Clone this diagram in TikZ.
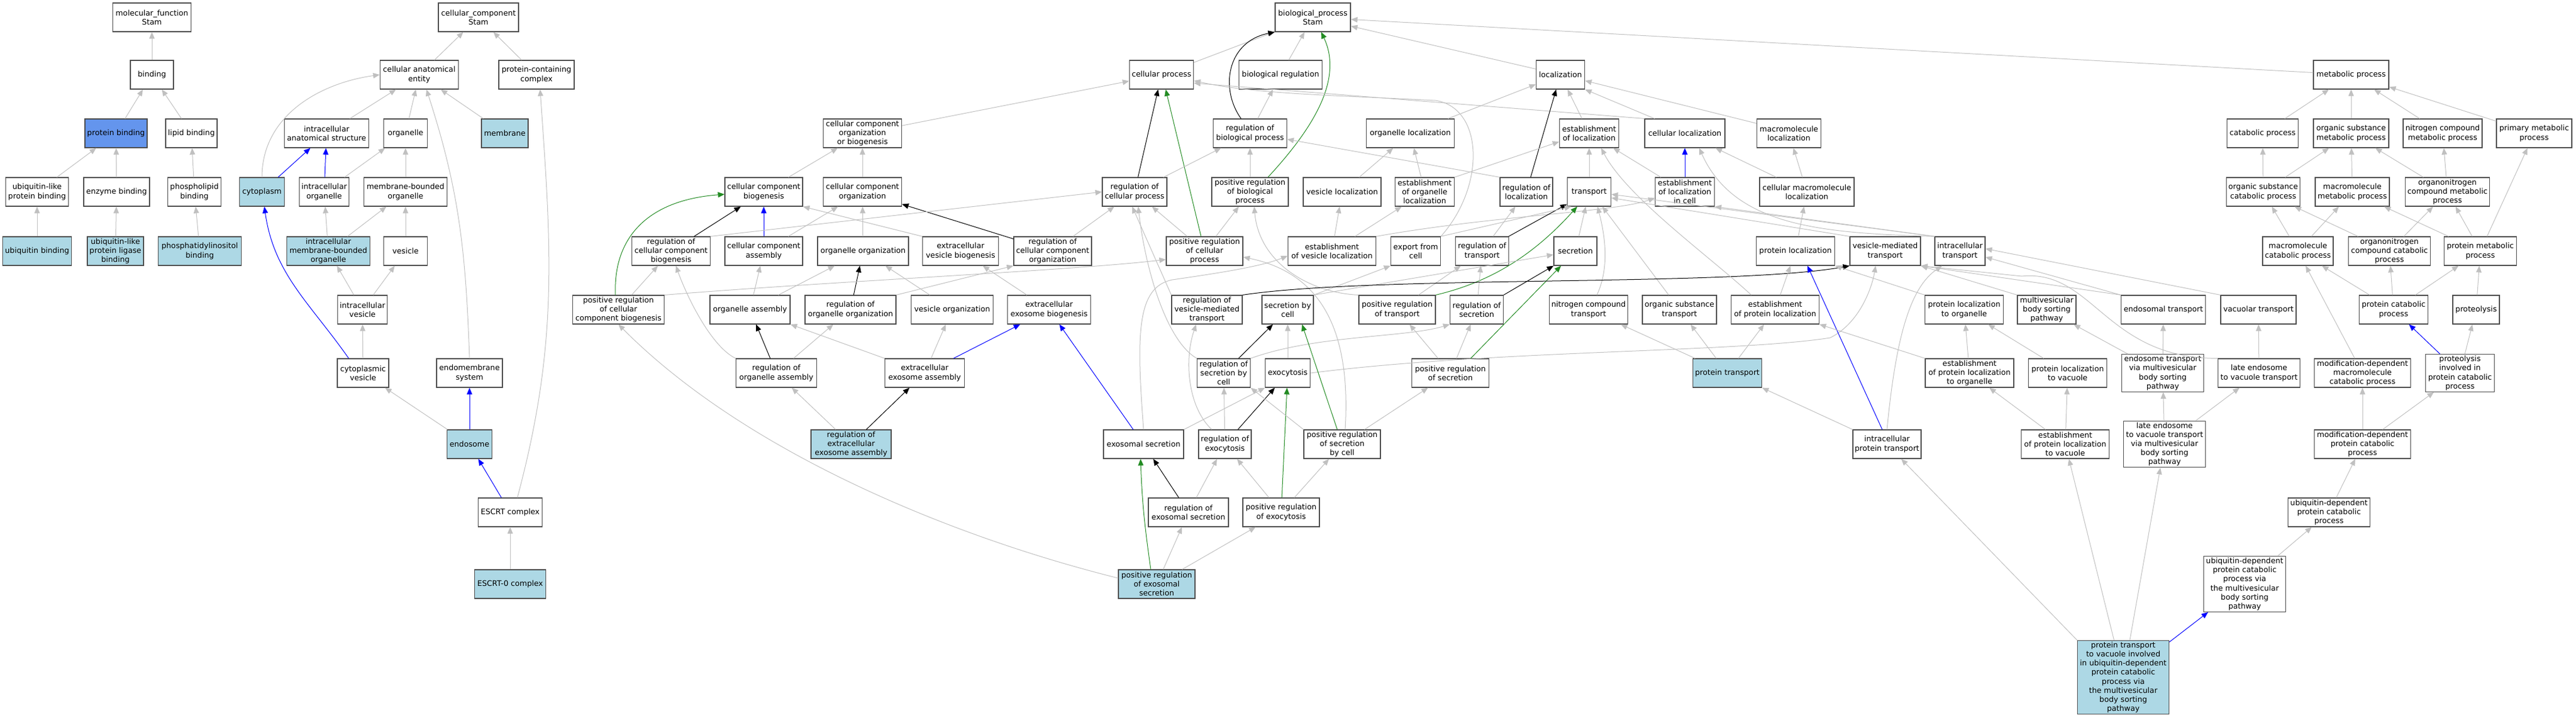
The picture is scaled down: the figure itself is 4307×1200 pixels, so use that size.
\PassOptionsToPackage{svgnames}{xcolor}
\documentclass[tikz,border=0pt]{standalone}
\usepackage{fontspec}
\setmainfont{DejaVu Sans}
\usetikzlibrary{arrows.meta}

\begin{document}
\begin{tikzpicture}[x=1pt, y=-1pt, font=\fontsize{12.7}{15.1}\selectfont, -{Triangle[length=11pt,width=9pt]}, line width=1pt]
      \useasboundingbox (0,0) rectangle (4307,1200);
      \tikzstyle{term} = [draw=black!70, line width=1.2pt, fill=white, align=center, inner xsep=2pt, inner ysep=2.5pt, minimum height=48pt]
      \tikzstyle{hit} = [term, fill=LightBlue]
      \tikzstyle{isa} = [draw=Silver]
      \tikzstyle{partof} = [draw=Blue]
      \tikzstyle{reg} = [draw=black]
      \tikzstyle{posreg} = [draw=ForestGreen]
      % molecular function
      \node (molfunc) at (254,29) [term, minimum width=131pt] {molecular\_function\\Stam};
      \node (binding) at (254,125) [term, minimum width=72pt] {binding};
      \node (proteinbinding) at (194,223) [term, fill=CornflowerBlue, minimum width=104pt] {protein binding};
      \node (lipidbinding) at (320,223) [term, minimum width=86pt] {lipid binding};
      \node (ubiquitinlike) at (62,321) [term, minimum width=105pt] {ubiquitin-like\\protein binding};
      \node (enzymebinding) at (195,321) [term, minimum width=110pt] {enzyme binding};
      \node (phospholipid) at (325,321) [term, minimum width=89pt] {phospholipid\\binding};
      \node (ubiquitinbinding) at (62,420) [hit, minimum width=115pt] {ubiquitin binding};
      \node (ligasebinding) at (193,420) [hit, minimum width=94pt] {ubiquitin-like\\protein ligase\\binding};
      \node (phosphatidylinositol) at (334,420) [hit, minimum width=139pt] {phosphatidylinositol\\binding};
      % cellular component
      \node (cellcomp) at (800,29) [term, minimum width=134pt] {cellular\_component\\Stam};
      \node (anatomical) at (701,125) [term, minimum width=131pt] {cellular anatomical\\entity};
      \node (proteincomplex) at (897,125) [term, minimum width=126pt] {protein-containing\\complex};
      \node (intracellularstructure) at (546,223) [term, minimum width=141pt] {intracellular\\anatomical structure};
      \node (organelle) at (678,223) [term, minimum width=73pt] {organelle};
      \node (membrane) at (844,223) [hit, minimum width=78pt] {membrane};
      \node (cytoplasm) at (438,321) [hit, minimum width=75pt] {cytoplasm};
      \node (intracellularorganelle) at (542,321) [term, minimum width=83pt] {intracellular\\organelle};
      \node (membranebounded) at (678,321) [term, minimum width=139pt] {membrane-bounded\\organelle};
      \node (intramembranebounded) at (549,420) [hit, minimum width=139pt] {intracellular\\membrane-bounded\\organelle};
      \node (vesicle) at (678,420) [term, minimum width=73pt] {vesicle};
      \node (intracellularvesicle) at (606,518) [term, minimum width=83pt] {intracellular\\vesicle};
      \node (cytoplasmicvesicle) at (607,624) [term, minimum width=86pt] {cytoplasmic\\vesicle};
      \node (endomembrane) at (785,624) [term, minimum width=110pt] {endomembrane\\system};
      \node (endosome) at (785,743) [hit, minimum width=75pt] {endosome};
      \node (escrt) at (853,857) [term, minimum width=107pt] {ESCRT complex};
      \node (escrtzero) at (853,977) [hit, minimum width=119pt] {ESCRT-0 complex};
      % biological process
      \node (bioprocess) at (2195,29) [term, minimum width=126pt] {biological\_process\\Stam};
      \node (cellularprocess) at (1942,125) [term, minimum width=107pt] {cellular process};
      \node (bioregulation) at (2141,125) [term, minimum width=139pt] {biological regulation};
      \node (localization) at (2609,125) [term, minimum width=81pt] {localization};
      \node (metabolic) at (3931,125) [term, minimum width=126pt] {metabolic process};
      \node (ccorgbio) at (1442,223) [term, minimum width=131pt] {cellular component\\organization\\or biogenesis};
      \node (regbioprocess) at (2090,223) [term, minimum width=123pt] {regulation of\\biological process};
      \node (organelleloc) at (2358,223) [term, minimum width=147pt] {organelle localization};
      \node (establoc) at (2657,223) [term, minimum width=99pt] {establishment\\of localization};
      \node (cellularloc) at (2817,223) [term, minimum width=134pt] {cellular localization};
      \node (macroloc) at (2991,223) [term, minimum width=107pt] {macromolecule\\localization};
      \node (catabolic) at (3783,223) [term, minimum width=119pt] {catabolic process};
      \node (orgsubmetab) at (3931,223) [term, minimum width=126pt] {organic substance\\metabolic process};
      \node (nitrometab) at (4084,223) [term, minimum width=132pt] {nitrogen compound\\metabolic process};
      \node (primarymetab) at (4237,223) [term, minimum width=126pt] {primary metabolic\\process};
      \node (ccbiogenesis) at (1277,321) [term, minimum width=130pt] {cellular component\\biogenesis};
      \node (ccorganization) at (1442,321) [term, minimum width=131pt] {cellular component\\organization};
      \node (regcellprocess) at (1897,321) [term, minimum width=108pt] {regulation of\\cellular process};
      \node (posregbioprocess) at (2090,321) [term, minimum width=128pt] {positive regulation\\of biological\\process};
      \node (vesicleloc) at (2244,321) [term, minimum width=130pt] {vesicle localization};
      \node (estorganelleloc) at (2382,321) [term, minimum width=99pt] {establishment\\of organelle\\localization};
      \node (regloc) at (2552,321) [term, minimum width=88pt] {regulation of\\localization};
      \node (transport) at (2657,321) [term, minimum width=73pt] {transport};
      \node (estlocincell) at (2817,321) [term, minimum width=99pt] {establishment\\of localization\\in cell};
      \node (cellmacroloc) at (3021,321) [term, minimum width=158pt] {cellular macromolecule\\localization};
      \node (orgsubcatab) at (3784,321) [term, minimum width=123pt] {organic substance\\catabolic process};
      \node (macrometab) at (3933,321) [term, minimum width=124pt] {macromolecule\\metabolic process};
      \node (organonitrometab) at (4092,321) [term, minimum width=141pt] {organonitrogen\\compound metabolic\\process};
      \node (regccbiogenesis) at (1122,420) [term, minimum width=131pt] {regulation of\\cellular component\\biogenesis};
      \node (ccassembly) at (1277,420) [term, minimum width=130pt] {cellular component\\assembly};
      \node (organelleorg) at (1443,420) [term, minimum width=152pt] {organelle organization};
      \node (evbiogenesis) at (1606,420) [term, minimum width=127pt] {extracellular\\vesicle biogenesis};
      \node (regccorg) at (1760,420) [term, minimum width=130pt] {regulation of\\cellular component\\organization};
      \node (posregcellprocess) at (2014,420) [term, minimum width=128pt] {positive regulation\\of cellular\\process};
      \node (estvesicleloc) at (2227,420) [term, minimum width=147pt] {establishment\\of vesicle localization};
      \node (export) at (2367,420) [term, minimum width=83pt] {export from\\cell};
      \node (regtransport) at (2478,420) [term, minimum width=89pt] {regulation of\\transport};
      \node (secretion) at (2634,420) [term, minimum width=72pt] {secretion};
      \node (proteinloc) at (3002,420) [term, minimum width=131pt] {protein localization};
      \node (vesiclemediated) at (3152,420) [term, minimum width=118pt] {vesicle-mediated\\transport};
      \node (intracellulartransport) at (3277,420) [term, minimum width=84pt] {intracellular\\transport};
      \node (macrocatab) at (3842,420) [term, minimum width=118pt] {macromolecule\\catabolic process};
      \node (organonitrocatab) at (3995,420) [term, minimum width=137pt] {organonitrogen\\compound catabolic\\process};
      \node (proteinmetab) at (4147,420) [term, minimum width=121pt] {protein metabolic\\process};
      \node (posregccbiogenesis) at (1034,518) [term, minimum width=153pt] {positive regulation\\of cellular\\component biogenesis};
      \node (organelleassembly) at (1254,518) [term, minimum width=134pt] {organelle assembly};
      \node (regorganelleorg) at (1422,518) [term, minimum width=152pt] {regulation of\\organelle organization};
      \node (vesicleorg) at (1592,518) [term, minimum width=137pt] {vesicle organization};
      \node (exobiogenesis) at (1754,518) [term, minimum width=139pt] {extracellular\\exosome biogenesis};
      \node (regvesiclemediated) at (2018,518) [term, minimum width=118pt] {regulation of\\vesicle-mediated\\transport};
      \node (secretionbycell) at (2153,518) [term, minimum width=86pt] {secretion by\\cell};
      \node (posregtransport) at (2336,518) [term, minimum width=128pt] {positive regulation\\of transport};
      \node (regsecretion) at (2469,518) [term, minimum width=89pt] {regulation of\\secretion};
      \node (nitrotransport) at (2656,518) [term, minimum width=131pt] {nitrogen compound\\transport};
      \node (orgsubtransport) at (2808,518) [term, minimum width=124pt] {organic substance\\transport};
      \node (estproteinloc) at (2968,518) [term, minimum width=147pt] {establishment\\of protein localization};
      \node (proteinloctoorganelle) at (3284,518) [term, minimum width=131pt] {protein localization\\to organelle};
      \node (mvbsorting) at (3422,518) [term, minimum width=98pt] {multivesicular\\body sorting\\pathway};
      \node (endosomaltransport) at (3617,518) [term, minimum width=141pt] {endosomal transport};
      \node (vacuolartransport) at (3776,518) [term, minimum width=126pt] {vacuolar transport};
      \node (proteincatab) at (4002,518) [term, minimum width=115pt] {protein catabolic\\process};
      \node (proteolysis) at (4140,518) [term, minimum width=78pt] {proteolysis};
      \node (regorganelleassembly) at (1298,624) [term, minimum width=135pt] {regulation of\\organelle assembly};
      \node (exoassembly) at (1546,624) [term, minimum width=133pt] {extracellular\\exosome assembly};
      \node (regsecretionbycell) at (2046,624) [term, minimum width=89pt] {regulation of\\secretion by\\cell};
      \node (exocytosis) at (2153,624) [term, minimum width=75pt] {exocytosis};
      \node (posregsecretion) at (2425,624) [term, minimum width=129pt] {positive regulation\\of secretion};
      \node (proteintransport) at (2888,624) [hit, minimum width=115pt] {protein transport};
      \node (estproteinloctoorganelle) at (3293,624) [term, minimum width=148pt] {establishment\\of protein localization\\to organelle};
      \node (proteinloctovacuole) at (3457,624) [term, minimum width=131pt] {protein localization\\to vacuole};
      \node (endosometransport) at (3616,624) [term, minimum width=137pt] {endosome transport\\via multivesicular\\body sorting\\pathway};
      \node (lateendosome) at (3777,624) [term, minimum width=137pt] {late endosome\\to vacuole transport};
      \node (moddepmacrocatab) at (3950,624) [term, minimum width=161pt] {modification-dependent\\macromolecule\\catabolic process};
      \node (proteolysiscatab) at (4113,624) [term, minimum width=115pt] {proteolysis\\involved in\\protein catabolic\\process};
      \node (regexoassembly) at (1423,743) [hit, minimum width=134pt] {regulation of\\extracellular\\exosome assembly};
      \node (exosomalsecretion) at (1912,743) [term, minimum width=134pt] {exosomal secretion};
      \node (regexocytosis) at (2048,743) [term, minimum width=88pt] {regulation of\\exocytosis};
      \node (posregsecretionbycell) at (2244,743) [term, minimum width=128pt] {positive regulation\\of secretion\\by cell};
      \node (intraproteintransport) at (3155,743) [term, minimum width=114pt] {intracellular\\protein transport};
      \node (estproteinloctovacuole) at (3453,743) [term, minimum width=147pt] {establishment\\of protein localization\\to vacuole};
      \node (lateendosomemvb) at (3619,743) [term, minimum width=137pt] {late endosome\\to vacuole transport\\via multivesicular\\body sorting\\pathway};
      \node (moddepproteincatab) at (3950,743) [term, minimum width=161pt] {modification-dependent\\protein catabolic\\process};
      \node (regexosomalsecretion) at (1987,857) [term, minimum width=134pt] {regulation of\\exosomal secretion};
      \node (posregexocytosis) at (2142,857) [term, minimum width=128pt] {positive regulation\\of exocytosis};
      \node (ubiquitindependent) at (3894,857) [term, minimum width=137pt] {ubiquitin-dependent\\protein catabolic\\process};
      \node (posregexosomalsecretion) at (1934,977) [hit, minimum width=128pt] {positive regulation\\of exosomal\\secretion};
      \node (ubiquitindependentmvb) at (3753,977) [term, minimum width=137pt] {ubiquitin-dependent\\protein catabolic\\process via\\the multivesicular\\body sorting\\pathway};
      \node (proteintransportvacuole) at (3550,1133) [hit, minimum width=153pt] {protein transport\\to vacuole involved\\in ubiquitin-dependent\\protein catabolic\\process via\\the multivesicular\\body sorting\\pathway};
      % molecular function edges
      \draw[isa] (binding) -- (molfunc);
      \draw[isa] (proteinbinding) -- (binding);
      \draw[isa] (lipidbinding) -- (binding);
      \draw[isa] (ubiquitinlike) -- (proteinbinding);
      \draw[isa] (enzymebinding) -- (proteinbinding);
      \draw[isa] (phospholipid) -- (lipidbinding);
      \draw[isa] (ubiquitinbinding) -- (ubiquitinlike);
      \draw[isa] (ligasebinding) -- (enzymebinding);
      \draw[isa] (phosphatidylinositol) -- (phospholipid);
      % cellular component edges
      \draw[isa] (anatomical) -- (cellcomp);
      \draw[isa] (proteincomplex) -- (cellcomp);
      \draw[isa] (intracellularstructure) -- (anatomical);
      \draw[isa] (organelle) -- (anatomical);
      \draw[isa] (membrane) -- (anatomical);
      \draw[isa] (cytoplasm.north) to[out=90, in=188] (anatomical.west);
      \draw[partof] (cytoplasm) -- (intracellularstructure);
      \draw[partof] (intracellularorganelle) -- (intracellularstructure);
      \draw[isa] (intracellularorganelle) -- (organelle);
      \draw[isa] (membranebounded) -- (organelle);
      \draw[isa] (intramembranebounded) -- (intracellularorganelle);
      \draw[isa] (intramembranebounded) -- (membranebounded);
      \draw[isa] (vesicle) -- (membranebounded);
      \draw[isa] (intracellularvesicle) -- (intramembranebounded);
      \draw[isa] (intracellularvesicle) -- (vesicle);
      \draw[isa] (cytoplasmicvesicle) -- (intracellularvesicle);
      \draw[partof] ([xshift=-24pt]cytoplasmicvesicle.north) to[out=125, in=-82] ([xshift=4pt]cytoplasm.south);
      \draw[isa] (endomembrane.north) to[out=92, in=-72] ([xshift=12pt]anatomical.south);
      \draw[partof] (endosome) -- (endomembrane);
      \draw[isa] (endosome) -- (cytoplasmicvesicle);
      \draw[partof] (escrt) -- (endosome);
      \draw[isa] ([xshift=12pt]escrt.north) to[out=75, in=-86] ([xshift=6pt]proteincomplex.south);
      \draw[isa] (escrtzero) -- (escrt);
      % biological process edges
      \draw[isa] (cellularprocess) -- (bioprocess);
      \draw[isa] (bioregulation) -- (bioprocess);
      \draw[isa] (localization) -- (bioprocess);
      \draw[isa] (metabolic) -- (bioprocess);
      \draw[reg] ([xshift=-15pt]regbioprocess.north) .. controls (2040,150) and (2050,70) .. (bioprocess.south west);
      \draw[posreg] ([xshift=30pt]posregbioprocess.north) .. controls (2200,210) and (2245,130) .. ([xshift=14pt]bioprocess.south);
      \draw[isa] (regbioprocess) -- (bioregulation);
      \draw[isa] (ccorgbio) -- (cellularprocess);
      \draw[reg] (regcellprocess) -- (cellularprocess);
      \draw[posreg] (posregcellprocess) -- ([xshift=7pt]cellularprocess.south);
      \draw[isa] (export.north east) .. controls (2485,310) and (2480,180) .. (2400,168) .. controls (2250,160) and (2100,158) .. ([yshift=-10pt]cellularprocess.east);
      \draw[isa] (cellularloc.north west) -- ([yshift=-14pt]cellularprocess.east);
      \draw[isa] (organelleloc) -- (localization);
      \draw[reg] (regloc) -- (localization);
      \draw[isa] (establoc) -- (localization);
      \draw[isa] ([xshift=17pt]cellularloc.north west) -- (localization.south east);
      \draw[isa] ([yshift=-8pt]macroloc.north west) -- ([yshift=-10pt]localization.east);
      \draw[isa] (catabolic) -- (metabolic);
      \draw[isa] (orgsubmetab) -- (metabolic);
      \draw[isa] (nitrometab) -- (metabolic);
      \draw[isa] (primarymetab) -- (metabolic);
      \draw[isa] (ccbiogenesis) -- (ccorgbio);
      \draw[isa] (ccorganization) -- (ccorgbio);
      \draw[isa] (regcellprocess) -- (regbioprocess);
      \draw[isa] (posregbioprocess) -- (regbioprocess);
      \draw[isa] (regloc.north west) -- ([yshift=-10pt]regbioprocess.east);
      \draw[isa] (vesicleloc) -- (organelleloc);
      \draw[isa] (estorganelleloc) -- (organelleloc);
      \draw[isa] (transport) -- (establoc);
      \draw[isa] (estorganelleloc.north east) -- ([yshift=-14pt]establoc.west);
      \draw[isa] (estlocincell) -- (establoc);
      \draw[partof] (estlocincell) -- (cellularloc);
      \draw[isa] (cellmacroloc) -- (cellularloc);
      \draw[isa] (cellmacroloc) -- (macroloc);
      \draw[isa] (intracellulartransport.north west) .. controls (3050,390) and (2900,380) .. ([xshift=24pt]cellularloc.south);
      \draw[isa] (orgsubcatab) -- (catabolic);
      \draw[isa] (orgsubcatab) -- (orgsubmetab);
      \draw[isa] (macrometab) -- (orgsubmetab);
      \draw[isa] (organonitrometab) -- (orgsubmetab);
      \draw[isa] (organonitrometab) -- (nitrometab);
      \draw[isa] (macrocatab) -- (orgsubcatab);
      \draw[isa] (macrocatab) -- (macrometab);
      \draw[isa] (organonitrocatab) -- (orgsubcatab);
      \draw[isa] (organonitrocatab) -- (organonitrometab);
      \draw[isa] (proteinmetab) -- (macrometab);
      \draw[isa] (proteinmetab) -- (organonitrometab);
      \draw[isa] (proteinmetab) -- (primarymetab);
      \draw[isa] (proteincatab) -- (macrocatab);
      \draw[isa] (proteincatab) -- (organonitrocatab);
      \draw[isa] (proteincatab) -- (proteinmetab);
      \draw[isa] (proteolysis) -- (proteinmetab);
      \draw[isa] (moddepmacrocatab) -- (macrocatab);
      \draw[partof] (proteolysiscatab) -- (proteincatab);
      \draw[isa] (proteolysiscatab) -- (proteolysis);
      \draw[isa] (moddepproteincatab) -- (moddepmacrocatab);
      \draw[isa] (moddepproteincatab) -- (proteolysiscatab);
      \draw[isa] (ubiquitindependent) -- (moddepproteincatab);
      \draw[isa] (ubiquitindependentmvb) -- (ubiquitindependent);
      \draw[partof] (proteintransportvacuole) -- (ubiquitindependentmvb);
      \draw[isa] (proteintransportvacuole) -- (lateendosomemvb);
      \draw[isa] (proteintransportvacuole) -- (estproteinloctovacuole);
      \draw[isa] (proteintransportvacuole.north west) -- (intraproteintransport);
      \draw[reg] (regccbiogenesis) -- (ccbiogenesis);
      \draw[partof] (ccassembly) -- (ccbiogenesis);
      \draw[posreg] ([xshift=-5pt]posregccbiogenesis.north) .. controls (1025,400) and (1080,335) .. ([yshift=-4pt]ccbiogenesis.west);
      \draw[isa] (evbiogenesis.north west) -- (ccbiogenesis.south east);
      \draw[isa] (ccassembly) -- (ccorganization);
      \draw[isa] (organelleorg) -- (ccorganization);
      \draw[reg] (regccorg) -- (ccorganization);
      \draw[isa] (regccorg) -- (regcellprocess);
      \draw[isa] (regccbiogenesis.north east) -- (regcellprocess.west);
      \draw[isa] (regvesiclemediated.north west) -- ([xshift=-4pt]regcellprocess.south);
      \draw[isa] (regsecretionbycell.north west) .. controls (1950,570) and (1915,450) .. ([xshift=6pt]regcellprocess.south);
      \draw[isa] (posregcellprocess) -- (regcellprocess);
      \draw[isa] (posregcellprocess) -- (posregbioprocess);
      \draw[isa] (posregtransport.north west) .. controls (2190,490) and (2105,440) .. ([xshift=7pt]posregbioprocess.south);
      \draw[isa] (estvesicleloc) -- (vesicleloc);
      \draw[isa] (estvesicleloc) -- (estorganelleloc);
      \draw[isa] (estvesicleloc.north east) .. controls (2500,360) and (2700,355) .. ([yshift=-10pt]estlocincell.west);
      \draw[isa] (regtransport) -- (regloc);
      \draw[reg] (regtransport) -- (transport);
      \draw[isa] (export.north east) -- ([xshift=-30pt]transport.south);
      \draw[posreg] (posregtransport.north east) .. controls (2500,470) and (2570,420) .. ([xshift=-20pt]transport.south);
      \draw[isa] (secretion) -- (transport);
      \draw[isa] ([xshift=14pt]nitrotransport.north) .. controls (2690,450) and (2685,400) .. ([xshift=14pt]transport.south);
      \draw[isa] ([xshift=-18pt]orgsubtransport.north) -- ([xshift=22pt]transport.south);
      \draw[isa] (vesiclemediated.north west) -- ([yshift=-10pt]transport.east);
      \draw[isa] (intracellulartransport.north west) -- ([yshift=-4pt]transport.east);
      \draw[isa] (intracellulartransport.north west) -- (estlocincell.south east);
      \draw[isa] (proteinloc) -- (cellmacroloc);
      \draw[isa] (organelleassembly) -- (ccassembly);
      \draw[isa] (organelleassembly) -- (organelleorg);
      \draw[reg] (regorganelleorg) -- (organelleorg);
      \draw[isa] (vesicleorg) -- (organelleorg);
      \draw[isa] (exobiogenesis) -- (evbiogenesis);
      \draw[isa] (regorganelleorg.north east) -- (regccorg.south west);
      \draw[isa] (posregccbiogenesis) -- (regccbiogenesis);
      \draw[isa] (posregccbiogenesis.north east) .. controls (1400,470) and (1800,452) .. ([yshift=-14pt]posregcellprocess.west);
      \draw[reg] (regorganelleassembly) -- (organelleassembly);
      \draw[isa] (regorganelleassembly) -- (regorganelleorg);
      \draw[isa] (regorganelleassembly.north west) .. controls (1190,580) and (1150,500) .. ([xshift=8pt]regccbiogenesis.south);
      \draw[isa] (exoassembly.north west) -- (organelleassembly.south east);
      \draw[isa] (exoassembly) -- (vesicleorg);
      \draw[partof] (exoassembly) -- (exobiogenesis);
      \draw[reg] (regexoassembly) -- (exoassembly);
      \draw[isa] (regexoassembly) -- (regorganelleassembly);
      \draw[partof] (exosomalsecretion) -- (exobiogenesis);
      \draw[isa] (exosomalsecretion.north) .. controls (1900,560) and (1900,480) .. (1960,468) .. controls (2050,455) and (2110,445) .. ([yshift=-8pt]estvesicleloc.west);
      \draw[isa] (exosomalsecretion.north east) -- (exocytosis.south west);
      \draw[reg] (regexosomalsecretion) -- (exosomalsecretion);
      \draw[isa] (regexosomalsecretion) -- (regexocytosis);
      \draw[posreg] ([xshift=-10pt]posregexosomalsecretion.north) to[out=98, in=-88] ([xshift=-5pt]exosomalsecretion.south);
      \draw[isa] (posregexosomalsecretion) -- (regexosomalsecretion);
      \draw[isa] (posregexosomalsecretion) -- (posregexocytosis);
      \draw[isa] ([yshift=10pt]posregexosomalsecretion.west) .. controls (1600,900) and (1250,760) .. (posregccbiogenesis.south);
      \draw[isa] (posregexocytosis) -- (regexocytosis);
      \draw[posreg] (posregexocytosis) -- (exocytosis);
      \draw[isa] (posregexocytosis) -- (posregsecretionbycell);
      \draw[isa] (regexocytosis) -- (regsecretionbycell);
      \draw[reg] (regexocytosis) -- (exocytosis);
      \draw[isa] ([xshift=-22pt]regexocytosis.north) .. controls (1985,680) and (1980,600) .. ([xshift=-18pt]regvesiclemediated.south);
      \draw[reg] (regsecretionbycell) -- (secretionbycell);
      \draw[isa] (regsecretionbycell.north east) .. controls (2200,560) and (2350,565) .. (regsecretion.south west);
      \draw[isa] (exocytosis) -- (secretionbycell);
      \draw[isa] (exocytosis.east) .. controls (2500,585) and (2900,590) .. (3060,565) .. controls (3110,540) and (3130,480) .. ([xshift=-16pt]vesiclemediated.south);
      \draw[posreg] (posregsecretionbycell) -- ([xshift=24pt]secretionbycell.south);
      \draw[isa] (posregsecretionbycell.north west) -- (regsecretionbycell.south east);
      \draw[isa] (posregsecretionbycell) -- (posregsecretion);
      \draw[isa] ([xshift=5pt]posregsecretionbycell.north) .. controls (2260,540) and (2200,455) .. ([yshift=-10pt]posregcellprocess.east);
      \draw[isa] (posregsecretion) -- (posregtransport);
      \draw[isa] (posregsecretion) -- (regsecretion);
      \draw[posreg] ([xshift=34pt]posregsecretion.north) -- ([xshift=-24pt]secretion.south);
      \draw[isa] (posregtransport) -- (regtransport);
      \draw[isa] (regsecretion) -- (regtransport);
      \draw[reg] (regsecretion.north east) -- (secretion.south west);
      \draw[isa] (secretionbycell.north east) -- (export.south west);
      \draw[isa] (secretionbycell.north east) -- ([yshift=-6pt]secretion.west);
      \draw[reg] (regvesiclemediated.north east) .. controls (2300,460) and (2900,480) .. (vesiclemediated.south west);
      \draw[partof] ([xshift=-8pt]intraproteintransport.north) -- ([xshift=20pt]proteinloc.south);
      \draw[isa] (intraproteintransport.north) .. controls (3170,560) and (3195,480) .. ([xshift=-30pt]intracellulartransport.south);
      \draw[isa] (intraproteintransport.north west) -- (proteintransport.south east);
      \draw[isa] (proteintransport) -- (estproteinloc);
      \draw[isa] (proteintransport) -- (orgsubtransport);
      \draw[isa] (proteintransport) -- (nitrotransport);
      \draw[isa] ([xshift=-40pt]estproteinloc.north) .. controls (2860,430) and (2720,330) .. ([xshift=20pt]establoc.south);
      \draw[isa] (estproteinloc) -- (proteinloc);
      \draw[isa] (proteinloctoorganelle.north west) -- (proteinloc.south east);
      \draw[isa] (estproteinloctoorganelle.north west) -- (estproteinloc.south east);
      \draw[isa] (estproteinloctoorganelle) -- (proteinloctoorganelle);
      \draw[isa] (proteinloctovacuole) -- (proteinloctoorganelle);
      \draw[isa] (estproteinloctovacuole) -- (proteinloctovacuole);
      \draw[isa] (estproteinloctovacuole) -- (estproteinloctoorganelle);
      \draw[isa] (mvbsorting.north west) -- (vesiclemediated.south east);
      \draw[isa] (endosomaltransport.north west) -- (vesiclemediated.south east);
      \draw[isa] (lateendosome.north west) .. controls (3520,600) and (3500,450) .. (3380,462) -- (vesiclemediated.south east);
      \draw[isa] (vacuolartransport.north west) -- ([yshift=4pt]intracellulartransport.east);
      \draw[isa] (endosomaltransport.north west) -- ([yshift=-10pt]intracellulartransport.east);
      \draw[isa] (endosometransport) -- (endosomaltransport);
      \draw[isa] (endosometransport) -- (mvbsorting);
      \draw[isa] (lateendosomemvb) -- (endosometransport);
      \draw[isa] (lateendosomemvb) -- (lateendosome);
      \draw[isa] (lateendosome) -- (vacuolartransport);
    \end{tikzpicture}
\end{document}
